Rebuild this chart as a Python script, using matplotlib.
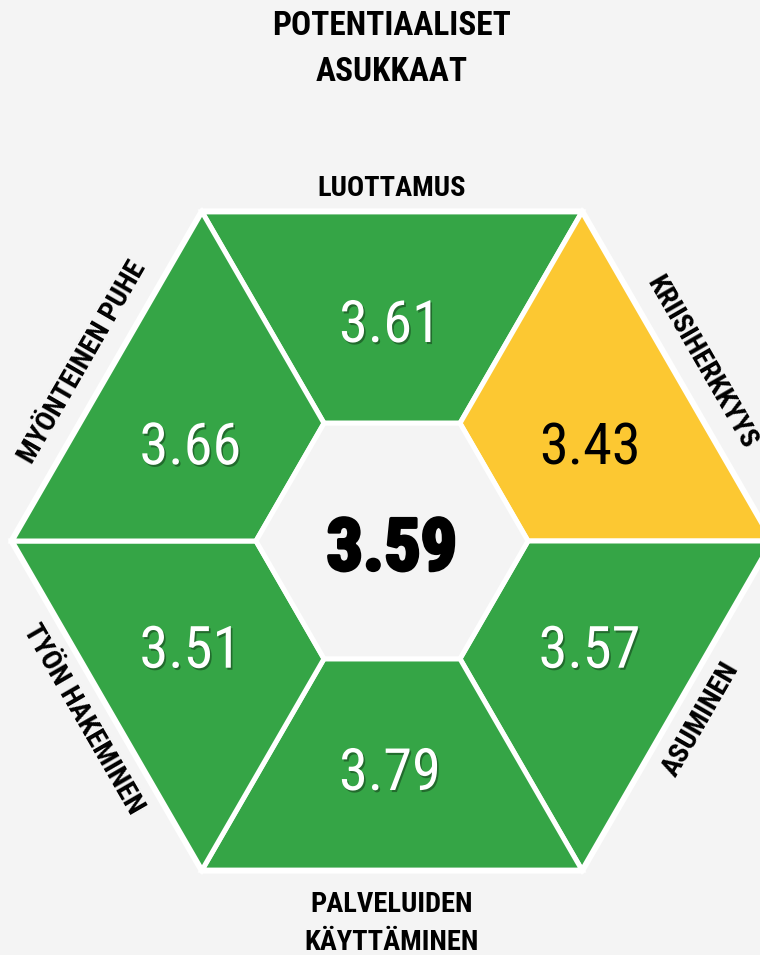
import matplotlib
matplotlib.use('Agg')
import matplotlib.pyplot as plt
from matplotlib.patches import Polygon
from matplotlib import font_manager as fm
import matplotlib.patheffects as pe
import numpy as np

# ---------------- data ----------------
title_lines = ['POTENTIAALISET', 'ASUKKAAT']
categories = ['LUOTTAMUS', 'KRIISIHERKKYYS', 'ASUMINEN',
              'PALVELUIDEN\nKÄYTTÄMINEN', 'TYÖN HAKEMINEN', 'MYÖNTEINEN PUHE']
values = [3.61, 3.43, 3.57, 3.79, 3.51, 3.66]
overall = 3.59
threshold = 3.5

# ---------------- style ----------------
BG = '#f4f4f4'
GREEN = '#35a546'
YELLOW = '#fcc832'


def _w(f):
    w = f.weight
    if isinstance(w, str):
        w = fm.weight_dict.get(w, 400)
    return w


prefs = [
    lambda f: f.name == 'Liberation Sans Narrow',
    lambda f: f.name.startswith('Roboto Condensed'),
    lambda f: f.name.startswith('Open Sans') and ('Condensed' in f.name or f.stretch not in ('normal', 500)),
    lambda f: f.name.startswith('Noto Sans') and 'CJK' not in f.name and
    ('Condensed' in f.name or f.stretch not in ('normal', 500)) and 'Semi' not in f.name,
    lambda f: f.name.startswith('DejaVu Sans') and ('Condensed' in f.name or f.stretch not in ('normal', 500)),
]


def pick(target_weight, size):
    for cond in prefs:
        c = [f for f in fm.fontManager.ttflist if cond(f) and f.style == 'normal']
        if c:
            f = min(c, key=lambda f: abs(_w(f) - target_weight))
            fp = fm.FontProperties(fname=f.fname)
            fp.set_size(size)
            return fp
    return fm.FontProperties(family='DejaVu Sans', weight=target_weight, size=size)


fp_title = pick(700, 24)
fp_label = pick(700, 20.5)
fp_value = pick(350, 42)
fp_center = pick(900, 52)

fig = plt.figure(figsize=(7.6, 9.55), dpi=100, facecolor=BG)
ax = fig.add_axes([0, 0, 1, 1])
ax.set_xlim(0, 760)
ax.set_ylim(955, 0)
ax.set_aspect('equal')
ax.axis('off')
ax.set_facecolor(BG)

cx, cy = 392, 541
R_out, R_in = 380, 136
mid_angles = [270, 330, 30, 90, 150, 210]


def pt(r, a):
    return (cx + r * np.cos(np.radians(a)), cy + r * np.sin(np.radians(a)))


# outer white border
ax.add_patch(Polygon([pt(R_out + 4, a) for a in range(0, 360, 60)], closed=True,
                     facecolor='white', edgecolor='none', zorder=1))

for m, v in zip(mid_angles, values):
    verts = [pt(R_in, m - 30), pt(R_out, m - 30), pt(R_out, m + 30), pt(R_in, m + 30)]
    col = GREEN if v >= threshold else YELLOW
    ax.add_patch(Polygon(verts, closed=True, facecolor=col, edgecolor='white',
                         linewidth=3.6, joinstyle='miter', zorder=2))

ax.add_patch(Polygon([pt(R_in, a) for a in range(0, 360, 60)], closed=True,
                     facecolor=BG, edgecolor='white', linewidth=3.6,
                     joinstyle='miter', zorder=3))

# values
val_dist = 224
val_angles = [270, 333, 27, 90, 153, 207]
vcy = cy + 4
shadow = [pe.SimplePatchShadow(offset=(1.2, -1.5), shadow_rgbFace='black', alpha=0.35),
          pe.Normal()]
for a, v in zip(val_angles, values):
    x = cx + val_dist * np.cos(np.radians(a)) - 2
    y = vcy + val_dist * np.sin(np.radians(a))
    white = v >= threshold
    ax.text(x, y + 21, f'{v:.2f}', ha='center', va='baseline',
            fontproperties=fp_value, color='white' if white else 'black',
            path_effects=shadow if white else None, zorder=5)

# centre value
ax.text(cx, 570, f'{overall:.2f}', ha='center', va='baseline',
        fontproperties=fp_center, color='black',
        path_effects=[pe.Stroke(linewidth=2.5, foreground='black'), pe.Normal()], zorder=5)

# title
ax.text(cx, 35, title_lines[0], ha='center', va='baseline', fontproperties=fp_title, color='black')
ax.text(cx, 81, title_lines[1], ha='center', va='baseline', fontproperties=fp_title, color='black')

# category labels
# top
ax.text(cx, 196, categories[0], ha='center', va='baseline', fontproperties=fp_label, color='black')
# bottom (two lines)
l1, l2 = categories[3].split('\n')
ax.text(cx, 912, l1, ha='center', va='baseline', fontproperties=fp_label, color='black')
ax.text(cx, 950, l2, ha='center', va='baseline', fontproperties=fp_label, color='black')

# side labels along edges
edge_off = 28
rot = {1: -60, 2: 60, 4: -60, 5: 60}
for i in (1, 2, 4, 5):
    m = mid_angles[i]
    apo = R_out * np.cos(np.radians(30)) + edge_off
    x = cx + apo * np.cos(np.radians(m))
    y = cy + apo * np.sin(np.radians(m))
    ax.text(x, y, categories[i], ha='center', va='center', rotation=rot[i],
            rotation_mode='anchor', fontproperties=fp_label, color='black')

fig.savefig('out.png', dpi=100, facecolor=BG)
